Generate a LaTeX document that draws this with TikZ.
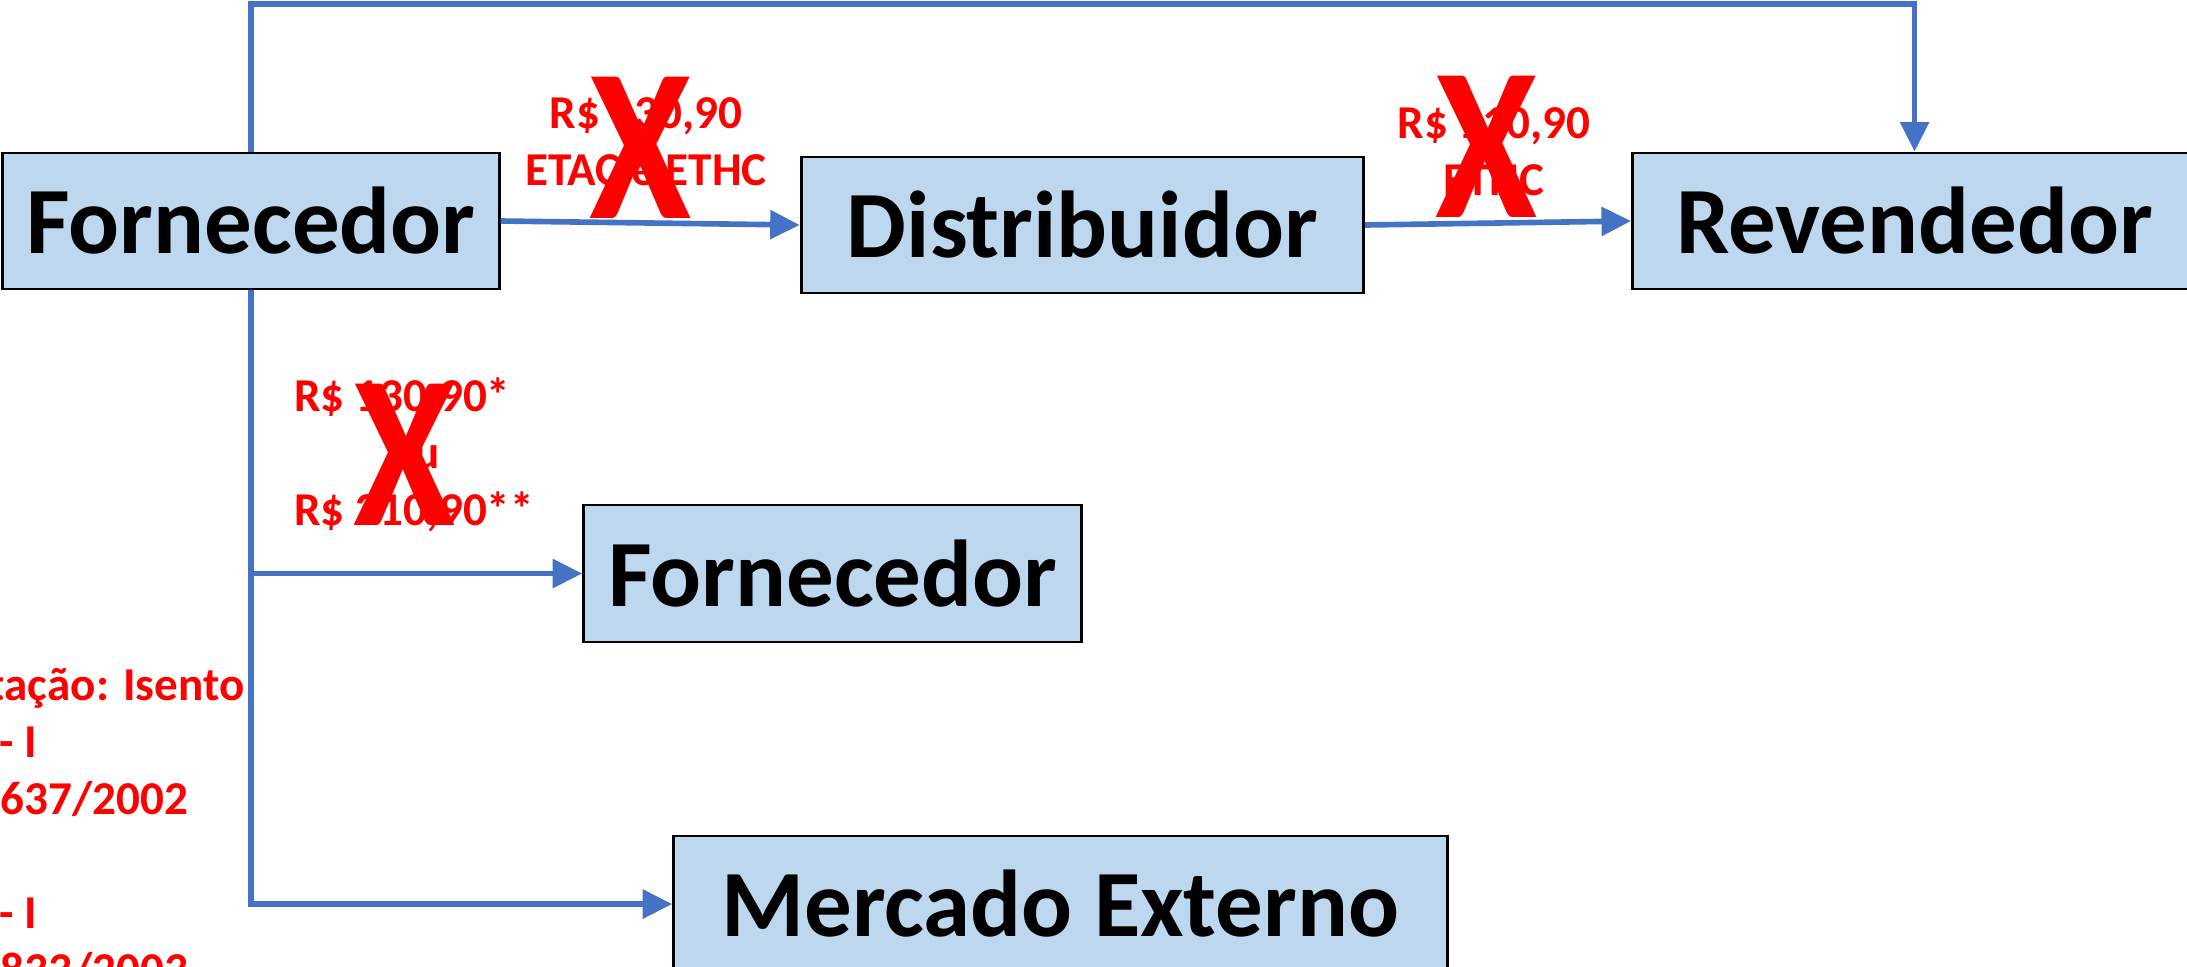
\documentclass[tikz,border=0pt]{standalone}
\usepackage{fontspec}
\setmainfont{Carlito}
\usetikzlibrary{positioning}
\usetikzlibrary{arrows.meta}
\definecolor{caixaazul}{HTML}{BDD7EE}
\definecolor{linhaazul}{HTML}{4472C4}

\begin{document}
\begin{tikzpicture}[x=0.01cm, y=-0.01cm,
                        >={Triangle[length=8.4pt, width=8pt]},
                        caixa/.style={rectangle, draw, fill=caixaazul, line width=0.8pt, inner sep=0pt, minimum height=1.36cm, font=\bfseries\fontsize{27}{32}\selectfont},
                        seta/.style={draw=linhaazul, line width=1.6pt},
                        preco/.style={text=red, align=center, inner sep=0pt, font=\bfseries\fontsize{13.4}{16.2}\selectfont},
                        nota/.style={text=red, anchor=base east, inner sep=0pt, font=\bfseries\fontsize{13.4}{16.2}\selectfont},
                        cruz/.style={text=red, inner sep=0pt, transform shape, xscale=0.85, font=\bfseries\fontsize{62}{62}\selectfont},
                    ]
                    \useasboundingbox (0,0) rectangle (2187,966);
                    \clip (0,0) rectangle (2187,966);
                    % Nodes
                    \node[caixa, minimum width=4.96cm]  (forn_1)  at (251,221)        {Fornecedor};
                    \node[caixa, minimum width=5.62cm]  (dist)    [right=2.99cm of forn_1, yshift=-0.04cm]   {Distribuidor};
                    \node[caixa, minimum width=5.64cm]  (rev)     [right=2.66cm of dist, yshift=0.04cm]      {Revendedor};
                    \node[caixa, minimum width=4.98cm, minimum height=1.37cm]  (forn_2)  [below right=2.13cm and 3.31cm of forn_1.south]  {Fornecedor};
                    \node[caixa, minimum width=7.73cm]  (merc)    [below right=1.91cm and 0.9cm of forn_2.south west]  {Mercado Externo};
                    \coordinate (topo) at (0,4);

                    %Lines
                    \draw[seta, ->] (forn_1.east) -- (dist.west);
                    \draw[seta, ->] (dist.east) -- (rev.west);
                    \draw[seta, ->] (forn_1.north) -- (forn_1.north |- topo) -| (rev.north);
                    \draw[seta, ->] (forn_1.south) |- (merc.west);
                    \draw[seta, ->] (forn_1.south |- forn_2.west) -- (forn_2.west);

                    %Labels
                    \node[preco]  (preco_1)  at (646,142)  {R\$ 130,90\\ETAC e ETHC};
                    \node[preco]  (preco_2)  at (1494,152) {R\$ 110,90\\ETHC};
                    \node[preco]  (preco_3)  at (414,455)  {R\$ 130,90*\phantom{*}\\ou\\R\$ 210,90**};
                    \node[cruz]   (cruz_1)   at (641,148)  {X};
                    \node[cruz]   (cruz_2)   at (1487,147) {X};
                    \node[cruz]   (cruz_3)   at (405,455)  {X};
                    \node[nota]   (nota_1)   at (245,700)  {tação: Isento};
                    \node[nota]   (nota_2)   at (38,757)   {- I};
                    \node[nota]   (nota_3)   at (189,814)  {637/2002};
                    \node[nota]   (nota_4)   at (38,928)   {- I};
                    \node[nota]   (nota_5)   at (189,985)  {833/2003};
                \end{tikzpicture}
\end{document}
